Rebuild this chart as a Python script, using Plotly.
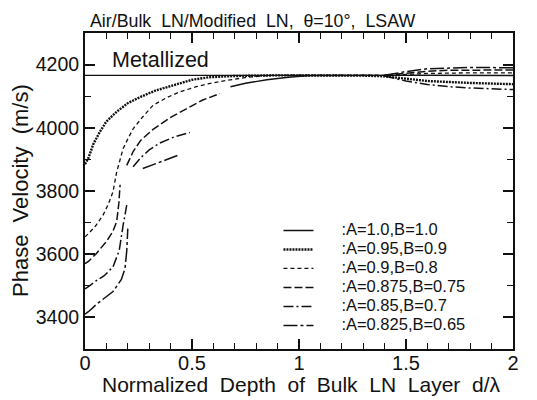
import plotly.graph_objects as go

# ---------------- data ----------------
metal_x = [0, 2]
metal_v = [4166, 4166]

labels = [":A=1.0,B=1.0", ":A=0.95,B=0.9", ":A=0.9,B=0.8",
          ":A=0.875,B=0.75", ":A=0.85,B=0.7", ":A=0.825,B=0.65"]

# A=1.0,B=1.0 (solid)
s1_x = [0.68, 0.75, 0.85, 0.95, 1.05, 1.2, 1.4, 1.5, 1.6, 1.8, 2.0]
s1_v = [4130, 4141, 4152, 4160, 4165, 4166, 4166, 4166, 4166, 4166, 4165]

# A=0.95,B=0.9 (dotted)
s2_x = [0, 0.015, 0.04, 0.07, 0.1, 0.15, 0.2, 0.26, 0.33, 0.41, 0.5, 0.58,
        0.7, 0.9, 1.1, 1.3, 1.4, 1.5, 1.6, 1.8, 2.0]
s2_v = [3885, 3903, 3950, 3988, 4020, 4052, 4078, 4098, 4118, 4135, 4152, 4160,
        4164, 4166, 4166, 4165, 4163, 4155, 4148, 4142, 4138]

# A=0.9,B=0.8 (short dash)
s3_x = [0, 0.016, 0.05, 0.084, 0.11, 0.131, 0.148, 0.165, 0.178, 0.2, 0.225,
        0.27, 0.318, 0.38, 0.444, 0.52, 0.58, 0.66, 0.76, 0.86, 1.0, 1.2, 1.4,
        1.5, 1.6, 1.8, 2.0]
s3_v = [3655, 3665, 3690, 3723, 3760, 3798, 3860, 3905, 3934, 3965, 3997,
        4035, 4071, 4095, 4114, 4130, 4140, 4150, 4160, 4166, 4167, 4167, 4166,
        4169, 4172, 4174, 4174]

# A=0.875,B=0.75 (long dash), two branches
s4_x = [0, 0.016, 0.05, 0.1, 0.13, 0.148, 0.158, 0.164, None,
        0.195, 0.225, 0.26, 0.318, 0.4, 0.475, 0.55, 0.63, None,
        1.4, 1.5, 1.6, 1.7, 1.8, 2.0]
s4_v = [3570, 3577, 3600, 3640, 3672, 3703, 3760, 3820, None,
        3881, 3925, 3960, 3995, 4033, 4061, 4088, 4108, None,
        4166, 4173, 4179, 4182, 4183, 4183]

# A=0.85,B=0.7 (dash-dot), branches
s5_x = [0, 0.016, 0.05, 0.09, 0.131, 0.16, 0.178, 0.195, None,
        0.225, 0.26, 0.3, 0.35, 0.42, 0.49, None,
        1.4, 1.5, 1.6, 1.7, 1.8, 2.0]
s5_v = [3490, 3497, 3515, 3532, 3560, 3612, 3691, 3755, None,
        3877, 3905, 3930, 3952, 3972, 3985, None,
        4164, 4148, 4137, 4130, 4126, 4121]

# A=0.825,B=0.65 (long dash-dot), branches
s6_x = [0, 0.016, 0.06, 0.131, 0.17, 0.187, 0.195, 0.2, None,
        0.27, 0.33, 0.38, 0.435, None,
        1.4, 1.5, 1.6, 1.7, 1.8, 2.0]
s6_v = [3410, 3418, 3445, 3482, 3520, 3555, 3610, 3681, None,
        3871, 3887, 3900, 3913, None,
        4166, 4178, 4187, 4190, 4191, 4190]

series_x = [s1_x, s2_x, s3_x, s4_x, s5_x, s6_x]
series_v = [s1_v, s2_v, s3_v, s4_v, s5_v, s6_v]

x_ticks = [0, 0.5, 1, 1.5, 2]
x_tick_text = ["0", "0.5", "1", "1.5", "2"]
y_ticks = [3400, 3600, 3800, 4000, 4200]

# ---------------- styles ----------------
dashes = ["solid", "2px,1px", "4px,3px", "8px,3px", "10px,3px,2px,3px", "14px,3px,3px,3px"]
widths = [1.4, 2.4, 1.3, 1.5, 1.5, 1.5]
INK = "#111"
PAD = "&nbsp;" * 5

fig = go.Figure()
fig.add_trace(go.Scatter(x=metal_x, y=metal_v, mode="lines",
                         line=dict(color=INK, width=1.2), showlegend=False,
                         hoverinfo="skip"))
for lab, xs, vs, d, w in zip(labels, series_x, series_v, dashes, widths):
    fig.add_trace(go.Scatter(
        x=xs, y=vs, mode="lines",
        name="<span style='font-size:16.5px'>" + PAD + lab + "</span>",
        line=dict(color=INK, width=w, dash=d), connectgaps=False))

font_family = "Liberation Sans, Arial, sans-serif"
# page body has an 8px margin: figure is drawn 8px right/down
fig.update_layout(
    width=529, height=392,
    margin=dict(l=77, r=24, t=25, b=51),
    paper_bgcolor="white", plot_bgcolor="white",
    font=dict(family=font_family, color=INK),
    showlegend=True,
    legend=dict(x=0.452, y=0.421, xanchor="left", yanchor="top",
                font=dict(size=11.2, family=font_family, color=INK),
                bgcolor="rgba(0,0,0,0)", tracegroupgap=0,
                itemwidth=30),
    annotations=[
        dict(text="Air/Bulk  LN/Modified  LN,  θ=10°,  LSAW", xref="paper", yref="paper",
             x=0.008, y=1.0, xanchor="left", yanchor="bottom", showarrow=False,
             font=dict(size=17.8, family=font_family, color=INK), yshift=0),
        dict(text="Metallized", xref="x", yref="y", x=0.115, y=4214,
             xanchor="left", yanchor="middle", showarrow=False,
             font=dict(size=21.5, family=font_family, color=INK)),
        dict(text="Normalized  Depth  of  Bulk  LN  Layer  d/λ", xref="paper", yref="paper",
             x=0.505, y=0, xanchor="center", yanchor="middle", yshift=-35,
             showarrow=False, font=dict(size=21, family=font_family, color=INK)),
        dict(text="Phase  Velocity  (m/s)", xref="paper", yref="paper",
             x=0, y=0.5, xanchor="center", yanchor="middle", xshift=-65,
             textangle=-90, showarrow=False,
             font=dict(size=22, family=font_family, color=INK)),
    ],
)

fig.update_xaxes(
    range=[0, 2], tickvals=x_ticks, ticktext=x_tick_text,
    ticks="inside", ticklen=10, tickwidth=1.5, tickcolor=INK,
    minor=dict(dtick=0.1, ticks="inside", ticklen=6, tickwidth=1.2, tickcolor=INK),
    showline=True, linewidth=2, linecolor=INK, mirror="allticks",
    showgrid=False, zeroline=False, automargin=False,
    tickfont=dict(size=20, family=font_family, color=INK),
    ticklabelstandoff=-5,
)
fig.update_yaxes(
    range=[3300, 4300], tickvals=y_ticks,
    ticks="inside", ticklen=10, tickwidth=1.5, tickcolor=INK,
    minor=dict(dtick=100, ticks="inside", ticklen=6, tickwidth=1.2, tickcolor=INK),
    showline=True, linewidth=2, linecolor=INK, mirror="allticks",
    showgrid=False, zeroline=False, automargin=False,
    tickfont=dict(size=19.5, family=font_family, color=INK),
)

fig.write_html("out.html")
